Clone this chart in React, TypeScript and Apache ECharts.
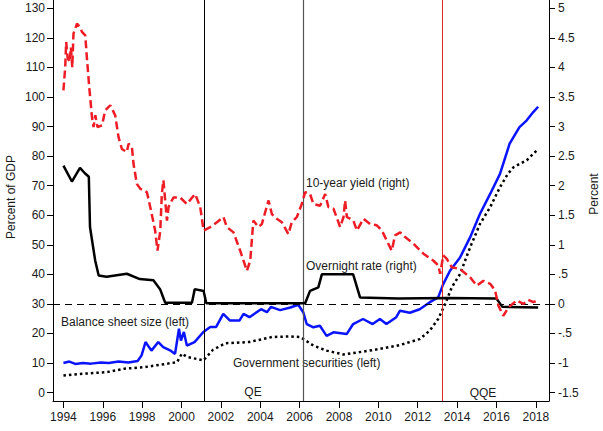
import React, { useEffect, useRef } from "react";
import * as echarts from "echarts";

// Axis ticks
const xTickYears = [1994, 1996, 1998, 2000, 2002, 2004, 2006, 2008, 2010, 2012, 2014, 2016, 2018];
const leftTicks = [0, 10, 20, 30, 40, 50, 60, 70, 80, 90, 100, 110, 120, 130];
const rightTicks = [-1.5, -1, -0.5, 0, 0.5, 1, 1.5, 2, 2.5, 3, 3.5, 4, 4.5, 5];

// Policy regime markers (year)
const qeStart = 2001.17;
const qeEnd = 2006.18;
const qqeStart = 2013.25;

// Balance sheet size (left, % of GDP)
const bsYears = [1994.0, 1994.3, 1994.6, 1995.0, 1995.4, 1995.9, 1996.3, 1996.8, 1997.3, 1997.77, 1997.97, 1998.17, 1998.47, 1998.82, 1999.07, 1999.47, 1999.67, 1999.87, 1999.97, 2000.12, 2000.27, 2000.66, 2001.11, 2001.46, 2001.76, 2002.12, 2002.45, 2002.95, 2003.15, 2003.45, 2004.04, 2004.34, 2004.54, 2005.01, 2005.53, 2005.93, 2006.19, 2006.36, 2006.7, 2007.03, 2007.37, 2007.72, 2008.39, 2008.72, 2009.22, 2009.71, 2010.08, 2010.41, 2010.91, 2011.1, 2011.6, 2012.1, 2012.6, 2013.04, 2013.29, 2013.64, 2014.15, 2014.66, 2015.16, 2015.68, 2016.18, 2016.67, 2017.17, 2017.54, 2017.87, 2018.12];
const bsValues = [10.0, 10.5, 9.7, 10.0, 9.8, 10.2, 10.0, 10.5, 10.2, 10.7, 12.6, 17.1, 14.2, 17.1, 15.4, 14.1, 13.1, 21.6, 17.6, 20.5, 15.9, 17.1, 20.5, 22.2, 22.2, 26.6, 24.4, 24.4, 26.6, 25.5, 28.2, 27.2, 29.0, 27.9, 28.8, 29.7, 27.1, 23.2, 22.1, 22.6, 19.2, 20.4, 19.8, 23.2, 24.9, 23.2, 24.9, 23.2, 25.5, 27.7, 27.0, 28.2, 30.5, 32.2, 36.6, 41.2, 45.7, 52.5, 60.4, 67.2, 74.0, 84.2, 89.8, 92.1, 94.9, 96.7];

// Government securities (left, % of GDP)
const govYears = [1994.0, 1995.0, 1996.2, 1997.1, 1998.1, 1999.3, 1999.77, 2000.02, 2000.27, 2001.11, 2001.6, 2002.24, 2003.43, 2004.6, 2005.53, 2006.03, 2006.7, 2007.37, 2008.22, 2009.06, 2010.1, 2011.1, 2012.1, 2012.6, 2013.04, 2013.39, 2013.73, 2014.15, 2014.66, 2015.16, 2015.68, 2016.18, 2016.58, 2016.88, 2017.54, 2018.12];
const govValues = [5.8, 6.4, 6.9, 8.1, 8.6, 9.8, 10.3, 13.2, 12.1, 10.9, 14.5, 16.7, 17.1, 18.8, 19.0, 18.8, 15.9, 14.2, 12.9, 13.7, 14.8, 16.1, 18.1, 20.9, 24.9, 29.9, 35.6, 40.1, 49.1, 57.0, 62.7, 69.5, 74.0, 76.3, 78.6, 82.4];

// Overnight rate (right, percent)
const onYears = [1994.0, 1994.43, 1994.84, 1995.09, 1995.29, 1995.35, 1995.61, 1995.79, 1996.19, 1997.22, 1997.88, 1998.57, 1998.91, 1999.17, 2000.53, 2000.67, 2001.12, 2001.26, 2006.28, 2006.53, 2006.95, 2007.13, 2008.72, 2009.07, 2011.0, 2013.5, 2016.0, 2016.3, 2018.12];
const onValues = [2.34, 2.07, 2.3, 2.21, 2.15, 1.3, 0.74, 0.48, 0.46, 0.51, 0.42, 0.4, 0.25, 0.02, 0.02, 0.25, 0.22, 0.01, 0.01, 0.22, 0.28, 0.5, 0.5, 0.11, 0.09, 0.1, 0.09, -0.05, -0.06];

// 10-year yield (right, percent)
const yldYears = [1994.0, 1994.09, 1994.14, 1994.21, 1994.31, 1994.38, 1994.45, 1994.51, 1994.69, 1994.85, 1994.94, 1995.11, 1995.19, 1995.31, 1995.45, 1995.53, 1995.62, 1995.73, 1995.96, 1996.12, 1996.38, 1996.63, 1996.8, 1996.97, 1997.22, 1997.31, 1997.48, 1997.56, 1997.73, 1997.9, 1998.07, 1998.24, 1998.41, 1998.66, 1998.78, 1998.92, 1999.0, 1999.08, 1999.26, 1999.34, 1999.59, 1999.93, 2000.27, 2000.69, 2000.95, 2001.12, 2001.46, 2001.8, 2002.13, 2002.3, 2002.64, 2002.98, 2003.32, 2003.49, 2003.65, 2003.91, 2004.08, 2004.25, 2004.42, 2004.59, 2004.84, 2005.1, 2005.43, 2005.6, 2005.86, 2006.11, 2006.28, 2006.53, 2006.7, 2007.04, 2007.3, 2007.46, 2007.72, 2008.06, 2008.23, 2008.31, 2008.4, 2008.73, 2008.91, 2009.24, 2009.58, 2009.92, 2010.18, 2010.43, 2010.68, 2010.85, 2011.11, 2011.36, 2011.78, 2012.29, 2012.8, 2013.05, 2013.14, 2013.3, 2013.48, 2013.73, 2014.15, 2014.66, 2015.0, 2015.34, 2015.68, 2015.93, 2016.1, 2016.35, 2016.61, 2017.03, 2017.37, 2017.62, 2017.87, 2018.13];
const yldValues = [3.61, 4.0, 4.43, 4.17, 4.09, 4.34, 4.0, 4.57, 4.74, 4.68, 4.6, 4.54, 4.17, 3.67, 3.16, 2.99, 3.19, 2.99, 3.02, 3.27, 3.36, 3.19, 2.82, 2.62, 2.57, 2.71, 2.65, 2.37, 2.03, 1.95, 1.92, 1.89, 1.64, 1.24, 0.9, 1.24, 1.86, 2.09, 1.41, 1.64, 1.8, 1.8, 1.69, 1.86, 1.64, 1.24, 1.3, 1.38, 1.47, 1.3, 1.21, 0.9, 0.56, 0.73, 1.41, 1.3, 1.35, 1.55, 1.75, 1.52, 1.44, 1.38, 1.18, 1.38, 1.47, 1.69, 1.89, 1.86, 1.69, 1.66, 1.86, 1.64, 1.61, 1.3, 1.47, 1.75, 1.47, 1.41, 1.24, 1.44, 1.35, 1.33, 1.24, 1.07, 0.9, 1.16, 1.21, 1.13, 1.02, 0.85, 0.73, 0.65, 0.51, 0.82, 0.76, 0.62, 0.59, 0.45, 0.31, 0.39, 0.34, 0.23, -0.03, -0.2, -0.06, 0.06, 0.0, 0.07, 0.03, 0.06];

const pair = (xs: number[], ys: number[]) => xs.map((x, i) => [x, ys[i]]);

const FONT = "'Liberation Sans', Arial, Helvetica, sans-serif";
const TEXT = "#1a1a1a";

const fmtRight = (v: number) => {
  if (v === 0) return "0";
  const s = String(v);
  if (s.startsWith("0.")) return s.slice(1);
  if (s.startsWith("-0.")) return "-" + s.slice(2);
  return s;
};

export default function App() {
  const ref = useRef<HTMLDivElement>(null);
  useEffect(() => {
    if (!ref.current) return;
    const chart = echarts.init(ref.current, null, { renderer: "svg" });
    const txt = (text: string, x: number, y: number, align = "left", rotation = 0) => ({
      type: "text",
      x,
      y,
      rotation,
      silent: true,
      style: {
        text,
        font: `12px ${FONT}`,
        fill: TEXT,
        textAlign: align,
        align,
        textVerticalAlign: "middle",
        verticalAlign: "middle",
      },
    });
    chart.setOption({
      animation: false,
      backgroundColor: "#ffffff",
      textStyle: { fontFamily: FONT },
      grid: { left: 53, right: 54, top: 0, bottom: 30 },
      xAxis: {
        type: "value",
        min: 1993.47,
        max: 2018.67,
        splitLine: { show: false },
        axisLine: { show: true, onZero: false, lineStyle: { color: "#000", width: 1 } },
        axisTick: { show: true, customValues: xTickYears, length: 7, lineStyle: { color: "#000", width: 1 } },
        axisLabel: {
          customValues: xTickYears,
          formatter: (v: number) => String(Math.round(v)),
          margin: 10,
          fontSize: 12,
          color: TEXT,
          fontFamily: FONT,
        },
      },
      yAxis: [
        {
          type: "value",
          position: "left",
          min: -2.84,
          max: 132.8,
          splitLine: { show: false },
          axisLine: { show: true, onZero: false, lineStyle: { color: "#000", width: 1 } },
          axisTick: { show: true, customValues: leftTicks, length: 6, lineStyle: { color: "#000", width: 1 } },
          axisLabel: {
            customValues: leftTicks,
            formatter: (v: number) => String(v),
            margin: 8,
            fontSize: 12,
            color: TEXT,
            fontFamily: FONT,
          },
        },
        {
          type: "value",
          position: "right",
          min: -1.642,
          max: 5.14,
          splitLine: { show: false },
          axisLine: { show: true, onZero: false, lineStyle: { color: "#000", width: 1 } },
          axisTick: { show: true, customValues: rightTicks, length: 6, lineStyle: { color: "#000", width: 1 } },
          axisLabel: {
            customValues: rightTicks,
            formatter: fmtRight,
            margin: 9,
            fontSize: 12,
            color: TEXT,
            fontFamily: FONT,
          },
        },
      ],
      series: [
        {
          name: "Government securities (left)",
          type: "line",
          yAxisIndex: 0,
          data: pair(govYears, govValues),
          showSymbol: false,
          symbol: "none",
          lineStyle: { color: "#000", width: 2.5, type: [2.5, 3] },
          z: 3,
          markLine: {
            silent: true,
            symbol: "none",
            label: { show: false },
            data: [
              { yAxis: 30, lineStyle: { color: "#000", width: 1, type: [7, 5] } },
              { xAxis: qeStart, lineStyle: { color: "#000", width: 1, type: "solid" } },
              { xAxis: qeEnd, lineStyle: { color: "#555", width: 1.2, type: "solid" } },
              { xAxis: qqeStart, lineStyle: { color: "#e3261f", width: 1, type: "solid" } },
            ],
          },
        },
        {
          name: "Balance sheet size (left)",
          type: "line",
          yAxisIndex: 0,
          data: pair(bsYears, bsValues),
          showSymbol: false,
          symbol: "none",
          lineStyle: { color: "#0a14ff", width: 2.5 },
          z: 4,
        },
        {
          name: "Overnight rate (right)",
          type: "line",
          yAxisIndex: 1,
          data: pair(onYears, onValues),
          showSymbol: false,
          symbol: "none",
          lineStyle: { color: "#000", width: 2.5 },
          z: 5,
        },
        {
          name: "10-year yield (right)",
          type: "line",
          yAxisIndex: 1,
          data: pair(yldYears, yldValues),
          showSymbol: false,
          symbol: "none",
          lineStyle: { color: "#ee1c25", width: 2.5, type: [8, 4] },
          z: 6,
        },
      ],
      graphic: [
        txt("Percent of GDP", 11, 197, "center", Math.PI / 2),
        txt("Percent", 594, 194, "center", Math.PI / 2),
        txt("10-year yield (right)", 306, 183),
        txt("Overnight rate (right)", 306, 266),
        txt("Balance sheet size (left)", 61, 322),
        txt("Government securities (left)", 233, 363),
        txt("QE", 253, 392, "center"),
        txt("QQE", 483, 393, "center"),
      ],
    });
    return () => chart.dispose();
  }, []);
  return <div ref={ref} style={{ position: "absolute", left: 0, top: 0, width: 603, height: 431 }} />;
}
